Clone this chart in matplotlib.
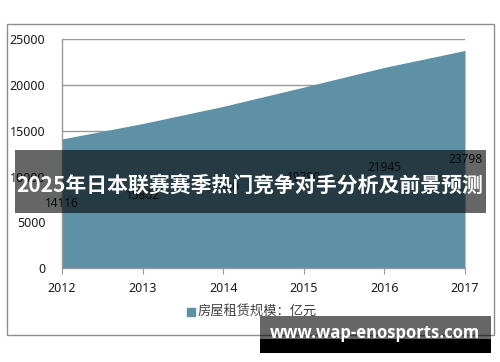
import matplotlib
matplotlib.use("Agg")
import matplotlib.pyplot as plt
import matplotlib.patches as patches

# data
years = [2012, 2013, 2014, 2015, 2016, 2017]
values = [14116, 15802, 17680, 19790, 21945, 23798]
y_ticks = [0, 5000, 10000, 15000, 20000, 25000]
legend_label = "房屋租赁规模：亿元"
banner_text = "2025年日本联赛赛季热门竞争对手分析及前景预测"
site_text = "www.wap-enosports.com"

plt.rcParams['font.family'] = ['Noto Sans', 'Noto Sans CJK SC', 'DejaVu Sans']

fig = plt.figure(figsize=(5, 3.62), dpi=100)
ax = fig.add_axes([0.124, 0.2597, 0.806, 0.6313])

fill_color = '#5E91A6'
ax.fill_between(years, values, 0, color=fill_color, linewidth=0, zorder=2)

for x, v in zip(years, values):
    ax.text(x, v / 2, str(v), ha='center', va='center', fontsize=8.5,
            color='#1a1a1a', zorder=3)

ax.set_xlim(years[0], years[-1])
ax.set_ylim(0, 25000)
ax.set_yticks(y_ticks)
ax.set_xticks(years)
ax.grid(axis='y', color='#999999', linewidth=1, zorder=1)
ax.set_axisbelow(True)

for s in ['top', 'right']:
    ax.spines[s].set_visible(False)
for s in ['left', 'bottom']:
    ax.spines[s].set_color('#999999')
    ax.spines[s].set_linewidth(1)

ax.tick_params(axis='y', length=0, pad=12, labelsize=9, labelcolor='#1a1a1a')
ax.tick_params(axis='x', length=4, color='#999999', direction='out', pad=6,
               labelsize=9, labelcolor='#1a1a1a')

# legend
fig.patches.append(patches.Rectangle((0.374, 0.127), 0.016, 0.022,
                                     transform=fig.transFigure,
                                     color=fill_color))
fig.text(0.395, 0.138, legend_label, fontsize=9.5, color='#404040',
         va='center', ha='left', family=['Noto Sans CJK SC', 'DejaVu Sans'])

# outer frame
fig.patches.append(patches.Rectangle((0.014, 0.0746), 0.974, 0.859,
                                     transform=fig.transFigure, fill=False,
                                     edgecolor='#8c8c8c', linewidth=1))

# banner overlay
fig.patches.append(patches.Rectangle((0.03, 0.4116), 0.942, 0.174,
                                     transform=fig.transFigure,
                                     facecolor='black', alpha=0.6,
                                     linewidth=0, zorder=5))
fig.text(0.5, 0.489, banner_text, fontsize=15, color='white',
         fontweight='bold', ha='center', va='center', zorder=6,
         family=['Noto Sans CJK SC', 'DejaVu Sans'])

# site watermark
fig.patches.append(patches.Rectangle((0.52, 0.0635), 0.462, 0.0635,
                                     transform=fig.transFigure,
                                     facecolor='black', alpha=0.6,
                                     linewidth=0, zorder=5))
fig.patches.append(patches.Rectangle((0.52, 0.0249), 0.462, 0.0387,
                                     transform=fig.transFigure,
                                     facecolor='black', linewidth=0, zorder=5))
fig.text(0.749, 0.08, site_text, fontsize=12, color='white',
         fontweight='bold', ha='center', va='center', zorder=6,
         family=['Open Sans', 'DejaVu Sans'])

fig.savefig("out.png", dpi=100)
